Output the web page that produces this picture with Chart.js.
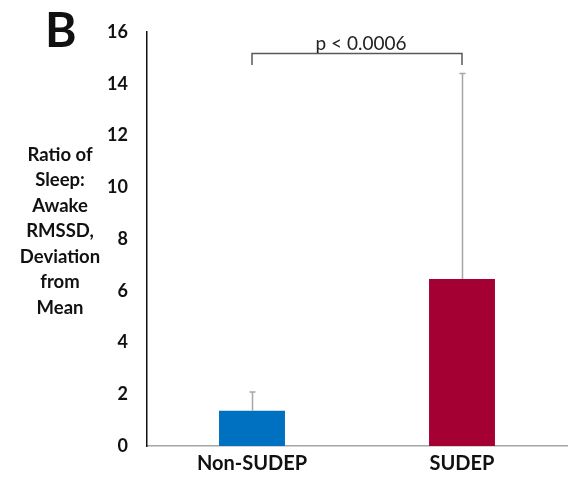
<!DOCTYPE html>
<html>
<head>
<meta charset="utf-8">
<script src="https://cdn.jsdelivr.net/npm/chart.js@4"></script>
<style>
  html, body { margin: 0; padding: 0; background: #fff; }
  #wrap { width: 573px; height: 481px; position: relative; }
</style>
</head>
<body>
<div id="wrap"><canvas id="myChart" width="573" height="481"></canvas></div>
<script>
const categories = ['Non-SUDEP', 'SUDEP'];
const means = [1.36, 6.45];
const errorTops = [2.09, 14.4];
const barColors = ['#0070c0', '#a50034'];
const yTicks = [0, 2, 4, 6, 8, 10, 12, 14, 16];
const yTitle = ['Ratio of', 'Sleep:', 'Awake', 'RMSSD,', 'Deviation', 'from', 'Mean'];
const pLabel = 'p < 0.0006';
const bracketTop = 15.18;
const bracketBottom = 14.72;

const font = 'Lato, "Open Sans", sans-serif';

const extras = {
    id: 'extras',
    afterDatasetsDraw(chart) {
        const ctx = chart.ctx;
        const x = chart.scales.x, y = chart.scales.y;
        ctx.save();
        // error bars (upper only)
        ctx.strokeStyle = '#a6a6a6';
        ctx.lineWidth = 1.5;
        means.forEach((m, i) => {
            const cx = Math.round(x.getPixelForValue(i)) + 0.5;
            const yt = y.getPixelForValue(errorTops[i]);
            ctx.beginPath();
            ctx.moveTo(cx, y.getPixelForValue(m));
            ctx.lineTo(cx, yt);
            ctx.moveTo(cx - 3, yt);
            ctx.lineTo(cx + 3, yt);
            ctx.stroke();
        });
        // significance bracket
        const x0 = x.getPixelForValue(0), x1 = x.getPixelForValue(1);
        const yb = Math.round(y.getPixelForValue(bracketTop)) + 0.5;
        const yl = y.getPixelForValue(bracketBottom);
        ctx.strokeStyle = '#595959';
        ctx.lineWidth = 1.5;
        ctx.beginPath();
        ctx.moveTo(x0, yl);
        ctx.lineTo(x0, yb);
        ctx.lineTo(x1, yb);
        ctx.lineTo(x1, yl);
        ctx.stroke();
        ctx.fillStyle = '#222';
        ctx.font = '19px ' + font;
        ctx.textAlign = 'center';
        ctx.textBaseline = 'alphabetic';
        ctx.fillText(pLabel, (x0 + x1) / 2 + 4, yb - 4);
        // y-axis title
        ctx.fillStyle = '#111';
        ctx.font = 'bold 18.5px ' + font;
        ctx.textBaseline = 'middle';
        yTitle.forEach((t, i) => ctx.fillText(t, 60, 155 + i * 25.5));
        // panel letter
        ctx.font = 'bold 48px ' + font;
        ctx.textAlign = 'left';
        ctx.textBaseline = 'alphabetic';
        ctx.fillText('B', 45, 47);
        ctx.restore();
    }
};

const ctx = document.getElementById('myChart').getContext('2d');
const chart = new Chart(ctx, {
    type: 'bar',
    data: {
        labels: categories,
        datasets: [{
            data: means,
            backgroundColor: barColors,
            borderWidth: 0,
            barPercentage: 0.314,
            categoryPercentage: 1
        }]
    },
    options: {
        responsive: false,
        animation: false,
        layout: { padding: { top: 32, right: 6, left: 0, bottom: 0 } },
        plugins: { legend: { display: false }, tooltip: { enabled: false } },
        scales: {
            x: {
                grid: { display: false, drawTicks: false },
                border: { display: true, color: '#a6a6a6', width: 1.5 },
                ticks: { color: '#111', font: { family: font, size: 20, weight: 'bold' }, padding: 6 },
                afterFit(s) { s.height = 35; }
            },
            y: {
                min: 0,
                max: 16,
                grid: { display: false, drawTicks: false },
                border: { display: true, color: '#111', width: 1.5 },
                afterBuildTicks(s) { s.ticks = yTicks.map(v => ({ value: v })); },
                ticks: { color: '#111', font: { family: font, size: 18, weight: 'bold' }, padding: 19 },
                afterFit(s) { s.width = 147; }
            }
        }
    },
    plugins: [extras]
});
</script>
</body>
</html>
